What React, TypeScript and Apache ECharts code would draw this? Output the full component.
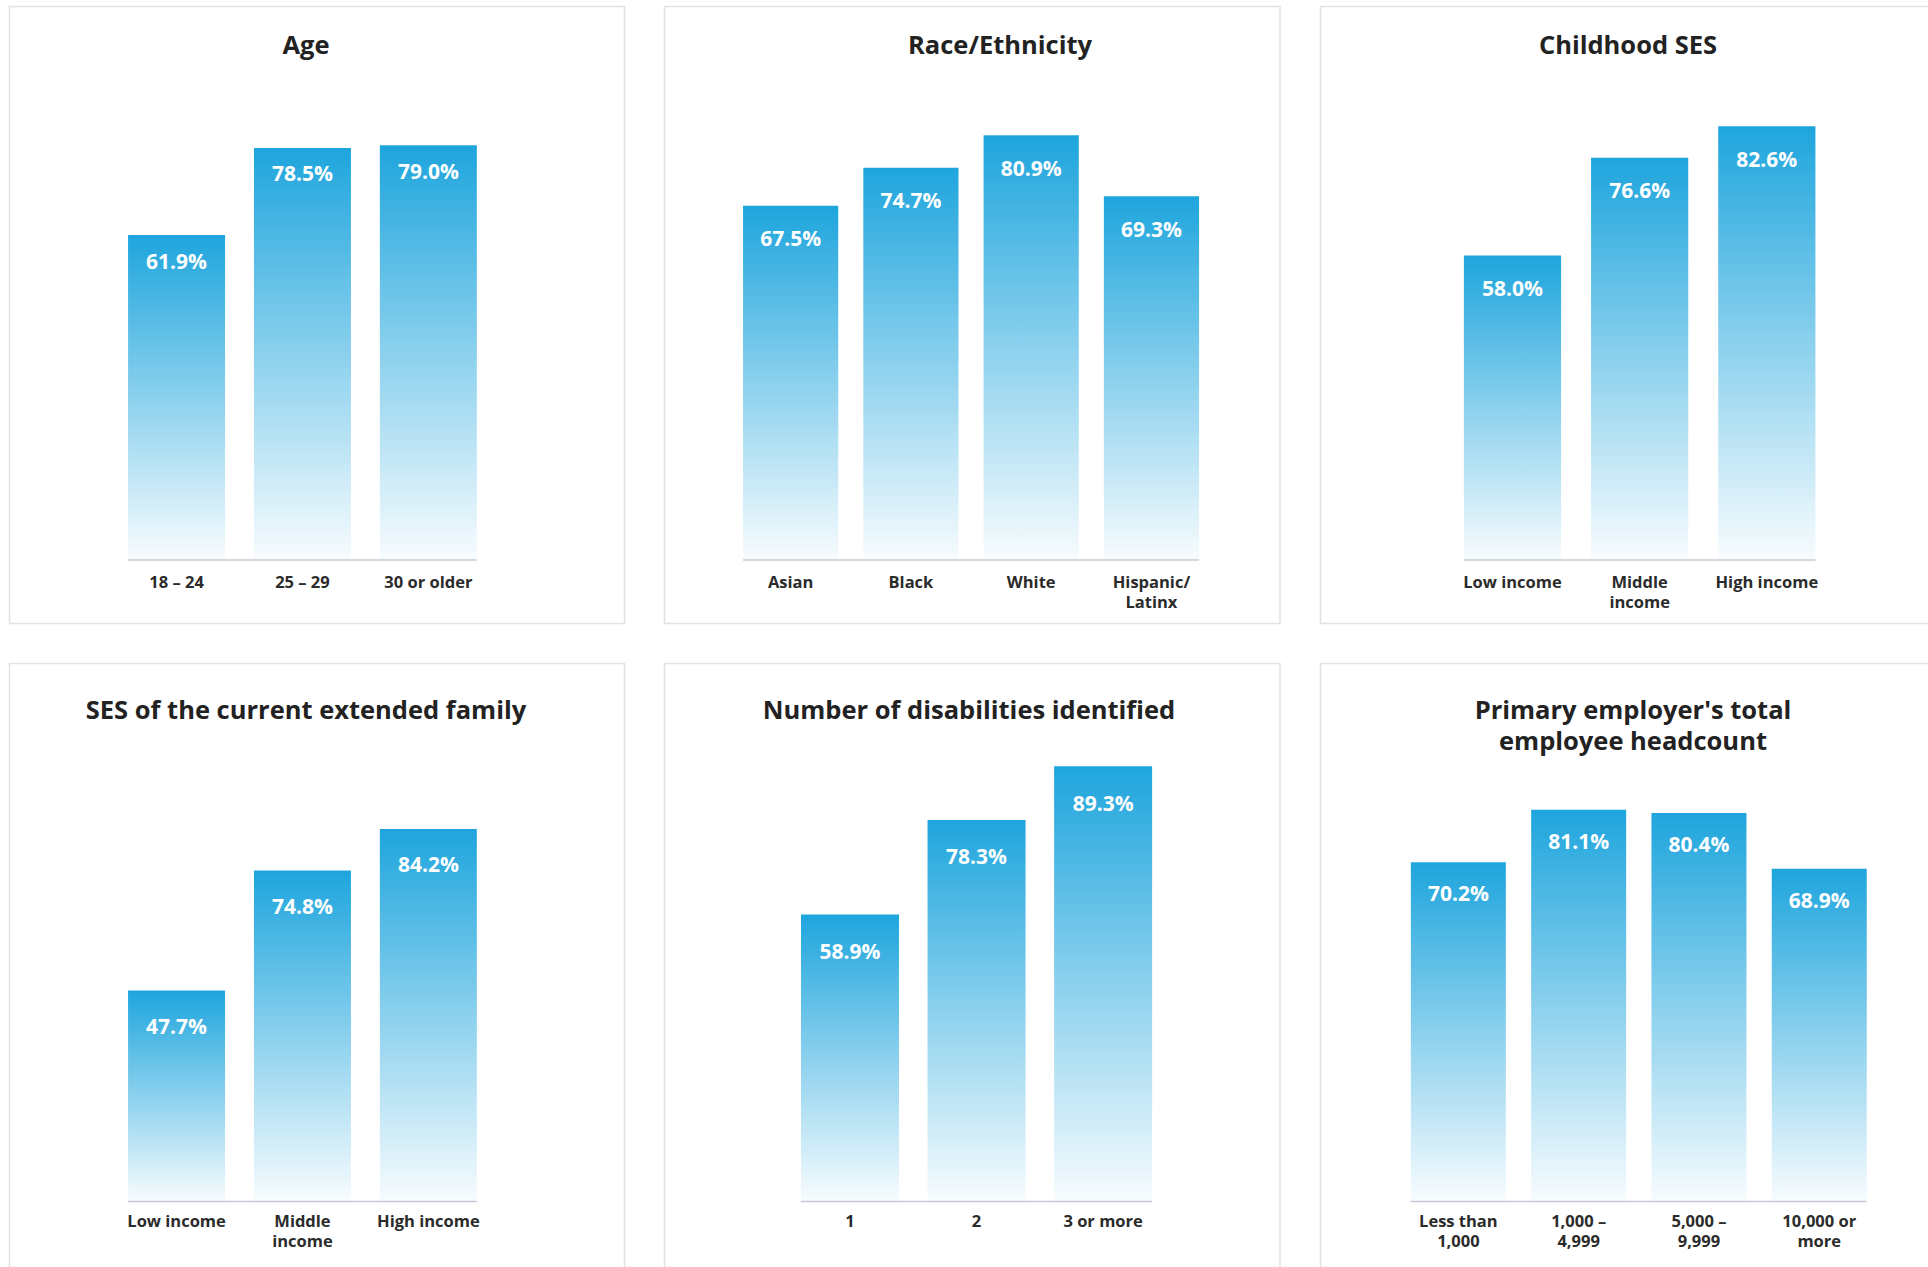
import React, { useEffect, useRef } from "react";
import * as echarts from "echarts";

// ---------- data ----------
const ageTitle = "Age";
const ageCategories = ["18 – 24", "25 – 29", "30 or older"];
const ageValues = [61.9, 78.5, 79.0];

const raceTitle = "Race/Ethnicity";
const raceCategories = ["Asian", "Black", "White", "Hispanic/\nLatinx"];
const raceValues = [67.5, 74.7, 80.9, 69.3];

const childhoodTitle = "Childhood SES";
const childhoodCategories = ["Low income", "Middle\nincome", "High income"];
const childhoodValues = [58.0, 76.6, 82.6];

const familyTitle = "SES of the current extended family";
const familyCategories = ["Low income", "Middle\nincome", "High income"];
const familyValues = [47.7, 74.8, 84.2];

const disabilityTitle = "Number of disabilities identified";
const disabilityCategories = ["1", "2", "3 or more"];
const disabilityValues = [58.9, 78.3, 89.3];

const headcountTitle = "Primary employer's total\nemployee headcount";
const headcountCategories = ["Less than\n1,000", "1,000 –\n4,999", "5,000 –\n9,999", "10,000 or\nmore"];
const headcountValues = [70.2, 81.1, 80.4, 68.9];

// ---------- layout ----------
type Layout = {
  box: [number, number, number, number];
  titleX: number;
  titleY: number;
  gridLeft: number;
  gridWidth: number;
  barWidth: number;
  baseline: number;
  gridHeight: number;
  yMax: number;
  labelDistance: number;
  catMargin: number;
};

const panels: { title: string; categories: string[]; values: number[]; layout: Layout }[] = [
  {
    title: ageTitle, categories: ageCategories, values: ageValues,
    layout: { box: [9.5, 6.5, 615, 617], titleX: 306, titleY: 44, gridLeft: 113.6, gridWidth: 377.7, barWidth: 97, baseline: 560, gridHeight: 525, yMax: 100, labelDistance: 15, catMargin: 11 },
  },
  {
    title: raceTitle, categories: raceCategories, values: raceValues,
    layout: { box: [664.5, 6.5, 615.5, 617], titleX: 1000, titleY: 44, gridLeft: 730.5, gridWidth: 481.1, barWidth: 95.2, baseline: 560, gridHeight: 525, yMax: 100, labelDistance: 22, catMargin: 11 },
  },
  {
    title: childhoodTitle, categories: childhoodCategories, values: childhoodValues,
    layout: { box: [1320.5, 6.5, 615.5, 617], titleX: 1628, titleY: 44, gridLeft: 1448.9, gridWidth: 381.5, barWidth: 97.2, baseline: 560, gridHeight: 525, yMax: 100, labelDistance: 22, catMargin: 11 },
  },
  {
    title: familyTitle, categories: familyCategories, values: familyValues,
    layout: { box: [9.5, 663.5, 615, 640], titleX: 306, titleY: 709, gridLeft: 113.6, gridWidth: 377.7, barWidth: 97, baseline: 1201.5, gridHeight: 500, yMax: 113, labelDistance: 25, catMargin: 9 },
  },
  {
    title: disabilityTitle, categories: disabilityCategories, values: disabilityValues,
    layout: { box: [664.5, 663.5, 615.5, 640], titleX: 969, titleY: 709, gridLeft: 786.7, gridWidth: 379.7, barWidth: 98, baseline: 1201.5, gridHeight: 500, yMax: 102.6, labelDistance: 26, catMargin: 9 },
  },
  {
    title: headcountTitle, categories: headcountCategories, values: headcountValues,
    layout: { box: [1320.5, 663.5, 615.5, 640], titleX: 1633, titleY: 724.5, gridLeft: 1398.2, gridWidth: 481.2, barWidth: 95, baseline: 1201.5, gridHeight: 500, yMax: 103.5, labelDistance: 20.5, catMargin: 9 },
  },
];

const FONT = "'Open Sans', 'Noto Sans', sans-serif";
const BAR_TOP = "#1ea5dd";
const BAR_BOTTOM = "#f8fcfe";

export default function App() {
  const ref = useRef<HTMLDivElement>(null);

  useEffect(() => {
    if (!ref.current) return;
    const chart = echarts.init(ref.current, null, { renderer: "svg" });

    const option: any = {
      animation: false,
      backgroundColor: "#ffffff",
      grid: panels.map((p) => ({
        left: p.layout.gridLeft,
        top: p.layout.baseline - p.layout.gridHeight,
        width: p.layout.gridWidth,
        height: p.layout.gridHeight,
        containLabel: false,
      })),
      xAxis: panels.map((p, i) => ({
        type: "category",
        gridIndex: i,
        data: p.categories,
        axisLine: { show: false },
        axisTick: { show: false },
        splitLine: { show: false },
        axisLabel: {
          interval: 0,
          margin: p.layout.catMargin,
          fontFamily: FONT,
          fontSize: 16.5,
          fontWeight: "bold",
          color: "#2b2b2b",
          lineHeight: 20,
          align: "center",
        },
      })),
      yAxis: panels.map((p, i) => ({
        type: "value",
        gridIndex: i,
        min: 0,
        max: p.layout.yMax,
        show: false,
        splitLine: { show: false },
      })),
      series: panels.map((p, i) => ({
        type: "bar",
        xAxisIndex: i,
        yAxisIndex: i,
        data: p.values,
        barWidth: p.layout.barWidth,
        itemStyle: {
          color: new echarts.graphic.LinearGradient(0, 0, 0, 1, [
            { offset: 0, color: BAR_TOP },
            { offset: 1, color: BAR_BOTTOM },
          ]),
        },
        label: {
          show: true,
          position: "insideTop",
          distance: p.layout.labelDistance,
          formatter: (d: any) => `${Number(d.value).toFixed(1)}%`,
          color: "#ffffff",
          fontFamily: FONT,
          fontSize: 21,
          fontWeight: "bold",
        },
      })),
    };
    chart.setOption(option);

    const borders = panels.map((p) => ({
      type: "rect",
      z: 0,
      shape: { x: p.layout.box[0], y: p.layout.box[1], width: p.layout.box[2], height: p.layout.box[3] },
      style: { fill: "none", stroke: "#e2e2e2", lineWidth: 1.5 },
    }));
    const titles = panels.map((p) => ({
      type: "text",
      z: 10,
      x: p.layout.titleX,
      y: p.layout.titleY,
      style: {
        text: p.title,
        align: "center",
        verticalAlign: "middle",
        fontFamily: FONT,
        fontSize: 25.5,
        fontWeight: "bold",
        lineHeight: 31.5,
        fill: "#222222",
      },
    }));
    const axisLines = panels.map((p, i) => {
      const first = chart.convertToPixel({ gridIndex: i } as any, [0, 0]) as number[];
      const last = chart.convertToPixel({ gridIndex: i } as any, [p.categories.length - 1, 0]) as number[];
      return {
        type: "line",
        z: 20,
        shape: {
          x1: first[0] - p.layout.barWidth / 2,
          y1: first[1],
          x2: last[0] + p.layout.barWidth / 2,
          y2: first[1],
        },
        style: { stroke: "#c7cad7", lineWidth: 1.5 },
      };
    });
    chart.setOption({ graphic: [...borders, ...titles, ...axisLines] });

    return () => chart.dispose();
  }, []);

  return (
    <div
      ref={ref}
      style={{ position: "fixed", left: 0, top: 0, width: 1928, height: 1267, background: "#ffffff" }}
    />
  );
}
